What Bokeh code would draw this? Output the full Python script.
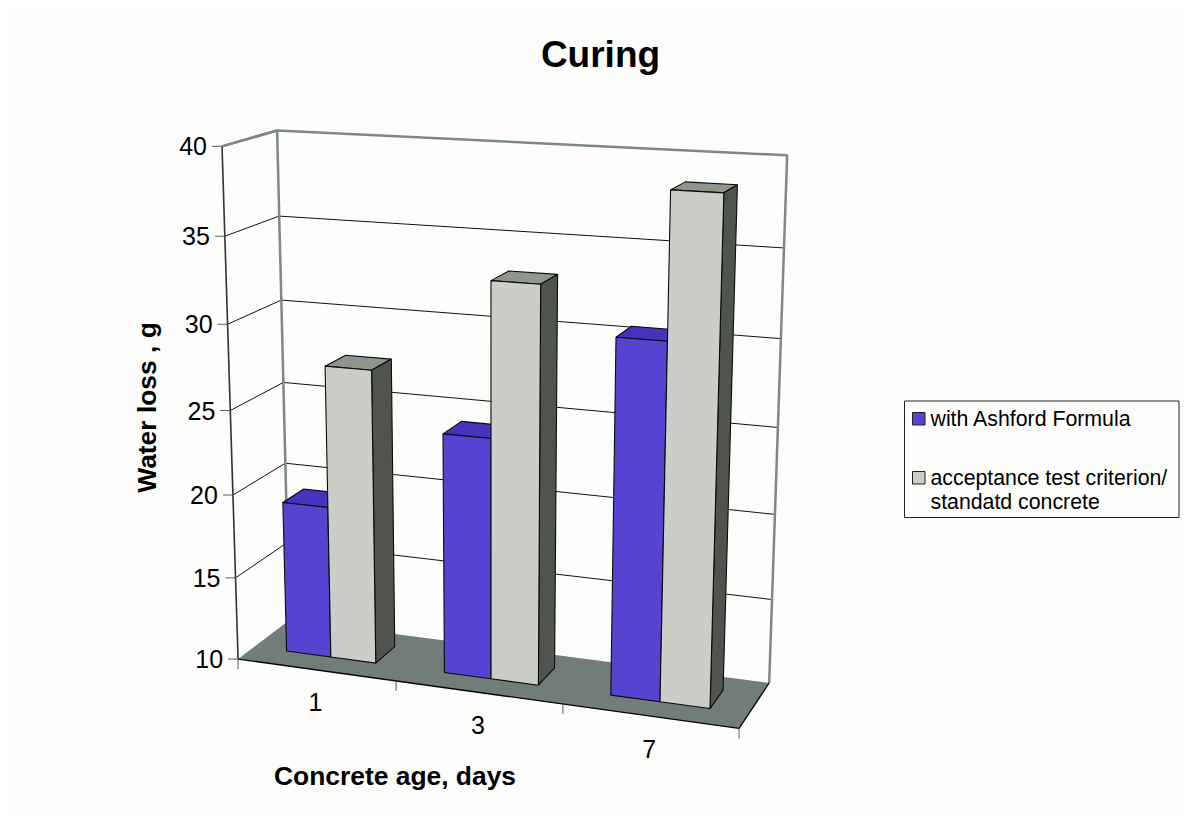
import numpy as np
from bokeh.plotting import figure
from bokeh.core.properties import value
from bokeh.embed import file_html
from bokeh.resources import INLINE

title = "Curing"
categories = ["1", "3", "7"]
series_names = ["with Ashford Formula", "acceptance test criterion/\nstandatd concrete"]
ashford = [19.15, 24.2, 30.5]
acceptance = [27.5, 33.1, 38.6]
value_ticks = [10, 15, 20, 25, 30, 35, 40]
x_title = "Concrete age, days"
y_title = "Water loss , g"

BLUE, BLUE_TOP, BLUE_SIDE = "#5544D2", "#4433BC", "#33288A"
GREY, GREY_TOP, GREY_SIDE = "#CBCDC6", "#8F978B", "#50544F"
FLOOR, WALL = "#717D79", "#7C8987"
BG = "#FDFDFB"

# Perspective camera: fitted from where the box's corners lie on the page
# (category position, value, depth) -> page pixel
anchors = [
    ((0, 10, 0), (238.3, 658.5)), ((0, 40, 0), (220.7, 145.7)),
    ((0, 40, 1), (277.0, 130.0)), ((0, 10, 1), (288.0, 620.0)),
    ((3, 40, 1), (787.0, 155.0)), ((3, 10, 1), (769.0, 682.0)),
    ((3, 10, 0), (738.5, 728.0)), ((1, 10, 0), (395.7, 680.7)),
    ((2, 10, 0), (562.0, 704.0)), ((0, 25, 0), (230.0, 409.6)),
    ((0, 25, 1), (283.0, 382.0)), ((3, 30, 1), (780.0, 338.0)),
    ((0, 35, 0), (224.5, 236.0)), ((0, 15, 0), (235.0, 577.0)),
]
A = []
for (c, v, d), (sx, sy) in anchors:
    P = [c, v, d, 1]
    A.append(P + [0, 0, 0, 0] + [-sx * q for q in P])
    A.append([0, 0, 0, 0] + P + [-sy * q for q in P])
M = np.linalg.svd(np.array(A, float))[2][-1].reshape(3, 4)


def pr(c, v, d):
    s = M @ np.array([c, v, d, 1.0])
    return float(s[0] / s[2]), float(s[1] / s[2])


def quad(*pts):
    xy = [pr(*q) for q in pts]
    return [q[0] for q in xy], [q[1] for q in xy]


W, H = 1191, 825
p = figure(width=W, height=H, x_range=(0, W), y_range=(H, 0),
           output_backend="svg", toolbar_location=None, min_border=0)
p.axis.visible = False
p.grid.visible = False
p.outline_line_color = None
p.background_fill_color = "#FFFFFF"
p.border_fill_color = "#FFFFFF"
p.quad(left=[8], right=[1183], top=[8], bottom=[817], fill_color=BG, line_color=None)

vmin, vmax = value_ticks[0], value_ticks[-1]
n = len(categories)

# floor
fx, fy = quad((0, vmin, 0), (n, vmin, 0), (n, vmin, 1), (0, vmin, 1))
p.patch(fx, fy, fill_color=FLOOR, line_color=None)

# gridlines on both walls
for v in value_ticks[1:-1]:
    xy = [pr(0, v, 0), pr(0, v, 1), pr(n, v, 1)]
    p.line([q[0] for q in xy], [q[1] for q in xy], line_color="#111111", line_width=1)

# wall frame
for pts in ([(0, vmax, 0), (0, vmax, 1), (n, vmax, 1), (n, vmin, 1)],
            [(0, vmax, 1), (0, vmin, 1)]):
    xy = [pr(*q) for q in pts]
    p.line([q[0] for q in xy], [q[1] for q in xy], line_color=WALL, line_width=2.5)

# bars
GAP = 1.5
bw = 1 / (2 + GAP)
z0, z1 = 0.31, 0.72
for i in range(n):
    for j, (vals, cf, ct, cs) in enumerate(((ashford, BLUE, BLUE_TOP, BLUE_SIDE),
                                            (acceptance, GREY, GREY_TOP, GREY_SIDE))):
        l = i + bw * GAP / 2 + j * bw - 0.004
        r = l + bw
        v = vals[i]
        faces = [
            (quad((l, v, z0), (r, v, z0), (r, v, z1), (l, v, z1)), ct),
            (quad((r, vmin, z0), (r, v, z0), (r, v, z1), (r, vmin, z1)), cs),
            (quad((l, vmin, z0), (r, vmin, z0), (r, v, z0), (l, v, z0)), cf),
        ]
        for (qx, qy), c in faces:
            p.patch(qx, qy, fill_color=c, line_color="#0A0A0A", line_width=1.1)

# axis lines
xy = [pr(0, vmin, 0), pr(0, vmax, 0)]
p.line([q[0] for q in xy], [q[1] for q in xy], line_color="#2E3533", line_width=1.6)
xy = [pr(0, vmax, 0), pr(0, vmax, 1)]
p.line([q[0] for q in xy], [q[1] for q in xy], line_color=WALL, line_width=2.5)
xy = [pr(0, vmin, 0), pr(n, vmin, 0), pr(n, vmin, 1)]
p.line([q[0] for q in xy], [q[1] for q in xy], line_color="#050505", line_width=1.3)

# value ticks and labels
tx, ty = [], []
for v in value_ticks:
    sx, sy = pr(0, v, 0)
    p.line([sx - 10, sx], [sy, sy], line_color="#55605E", line_width=1)
    tx.append(sx - 15)
    ty.append(sy)
p.text(tx, ty, text=[str(v) for v in value_ticks], text_font=value("Liberation Sans"),
       text_font_size="25px", text_align="right", text_baseline="middle", text_color="#000000")

# category ticks and labels
for i in range(n + 1):
    sx, sy = pr(i, vmin, 0)
    p.line([sx, sx], [sy, sy + 10], line_color="#55605E", line_width=1)
cx, cy = [], []
for i in range(n):
    sx, sy = pr(i + 0.5, vmin, 0)
    cx.append(sx - 0.5)
    cy.append(sy + 32.5)
p.text(cx, cy, text=categories, text_font=value("Liberation Sans"), text_font_size="25px",
       text_align="center", text_baseline="middle", text_color="#000000")

# titles
p.text([600], [54], text=[title], text_font=value("Liberation Sans"), text_font_size="37px",
       text_font_style="bold", text_align="center", text_baseline="middle", text_color="#000000")
p.text([394.5], [775.5], text=[x_title], text_font=value("Liberation Sans"), text_font_size="26.4px",
       text_font_style="bold", text_align="center", text_baseline="middle", text_color="#000000")
p.text([146.5], [407], text=[y_title], angle=np.pi / 2, text_font=value("Liberation Sans"),
       text_font_size="26.4px", text_font_style="bold", text_align="center", text_baseline="middle",
       text_color="#000000")

# legend
p.quad(left=[904], right=[1178.5], top=[400.5], bottom=[517], fill_color=BG,
       line_color="#222222", line_width=1)
p.quad(left=[912, 912], right=[924.5, 924.5], top=[412, 471], bottom=[424.5, 483.5],
       fill_color=[BLUE, GREY], line_color="#222222", line_width=1)
lines = [series_names[0]] + series_names[1].split("\n")
p.text([930, 930, 930], [418.5, 477, 501.5], text=lines, text_font=value("Liberation Sans"),
       text_font_size="21.3px", text_align="left", text_baseline="middle", text_color="#000000")

open("out.html", "w").write(file_html(p, INLINE))
